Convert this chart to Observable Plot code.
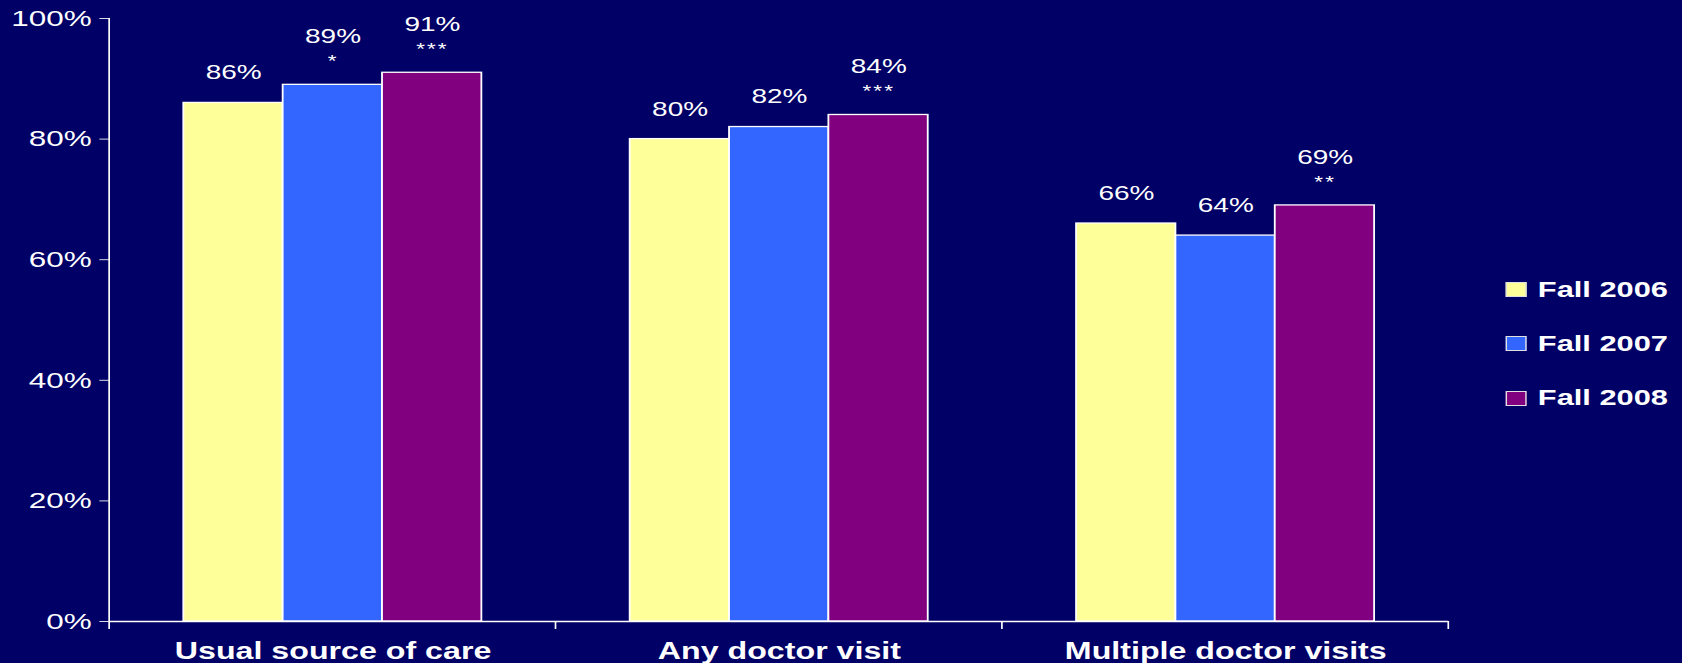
<!DOCTYPE html>
<html>
<head>
<meta charset="utf-8">
<script src="https://cdn.jsdelivr.net/npm/d3@7"></script>
<script src="https://cdn.jsdelivr.net/npm/@observablehq/plot@0.6"></script>
<style>
  html, body { margin: 0; padding: 0; background: #000066; overflow: hidden; }
  #stage {
    position: relative;
    width: 1202px;
    height: 663px;
    transform: scaleX(1.3993);
    transform-origin: 0 0;
    font-family: "Liberation Sans", Arial, sans-serif;
  }
  #legend { position: absolute; left: 1076px; top: 0; color: white; }
  .item { position: absolute; left: 0; display: flex; align-items: center; height: 24px; white-space: nowrap; }
  .swatch { width: 13px; height: 13px; border: 1px solid #e0e0e0; margin-right: 8px; }
  .item span { font-size: 22px; font-weight: bold; }
  .stars text { letter-spacing: 1.5px; }
</style>
</head>
<body>
<div id="stage"><div id="legend"></div></div>
<script>
// Survey measures (percent of respondents), by season
const categories = ["Usual source of care", "Any doctor visit", "Multiple doctor visits"];
const seasons = ["Fall 2006", "Fall 2007", "Fall 2008"];
const fall2006 = [86, 80, 66];
const fall2007 = [89, 82, 64];
const fall2008 = [91, 84, 69];
// Significance markers relative to Fall 2006
const stars2006 = ["", "", ""];
const stars2007 = ["*", "", ""];
const stars2008 = ["***", "***", "**"];
const colors = ["#FFFF99", "#3366FF", "#800080"];
const yTicks = [0, 20, 40, 60, 80, 100];

const series = [
  {season: seasons[0], values: fall2006, stars: stars2006},
  {season: seasons[1], values: fall2007, stars: stars2007},
  {season: seasons[2], values: fall2008, stars: stars2008}
];
const rows = categories.flatMap((category, i) =>
  series.map(s => ({category, season: s.season, value: s.values[i], stars: s.stars[i]}))
);
const starred = rows.filter(d => d.stars);
const plain = rows.filter(d => !d.stars);

const plot = Plot.plot({
  width: 1202,
  height: 663,
  marginTop: 18,
  marginBottom: 42,
  marginLeft: 77,
  marginRight: 166,
  style: {background: "transparent", color: "white", fontFamily: "'Liberation Sans', Arial, sans-serif"},
  fx: {domain: categories, padding: 0, label: null},
  x: {domain: seasons, paddingInner: 0, paddingOuter: 0.73, axis: null},
  y: {domain: [0, 100], axis: null, label: null},
  color: {domain: seasons, range: colors},
  marks: [
    Plot.axisY({ticks: yTicks, tickFormat: d => `${d}%`, tickSize: 7, tickPadding: 6, fontSize: 22.5, label: null, stroke: "#d8d8e8"}),
    Plot.axisFx({anchor: "bottom", tickSize: 0, tickPadding: 21, fontSize: 23, fontWeight: "bold", label: null}),
    Plot.barY(rows, {fx: "category", x: "season", y: "value", fill: "season", stroke: "white", strokeWidth: 1.3}),
    Plot.ruleY([0], {stroke: "white", strokeWidth: 1.5}),
    Plot.text(plain, {fx: "category", x: "season", y: "value", text: d => `${d.value}%`, dy: -30, fontSize: 20, fill: "white"}),
    Plot.text(starred, {fx: "category", x: "season", y: "value", text: d => `${d.value}%`, dy: -48, fontSize: 20, fill: "white"}),
    Plot.text(starred, {fx: "category", x: "season", y: "value", text: "stars", dy: -23, fontSize: 16, fill: "white", className: "stars"})
  ]
});

// Vertical axis line and category boundary ticks, placed with the plot's own scales
const fx = plot.scale("fx");
const y = plot.scale("y");
const edges = categories.map(c => fx.apply(c));
edges.push(fx.apply(categories[categories.length - 1]) + fx.bandwidth);
const y0 = y.apply(0), yTop = y.apply(100);
const g = d3.select(plot).append("g").attr("stroke", "white").attr("stroke-width", 1.2);
g.selectAll("line").data(edges).join("line")
  .attr("x1", d => d).attr("x2", d => d)
  .attr("y1", (d, i) => i === 0 ? yTop : y0)
  .attr("y2", y0 + 8);

document.getElementById("stage").prepend(plot);

// Legend
const centers = [289.5, 343.5, 398];
const legend = d3.select("#legend");
seasons.forEach((s, i) => {
  const item = legend.append("div").attr("class", "item").style("top", `${centers[i] - 12}px`);
  item.append("div").attr("class", "swatch").style("background", colors[i]);
  item.append("span").text(s);
});
</script>
</body>
</html>
